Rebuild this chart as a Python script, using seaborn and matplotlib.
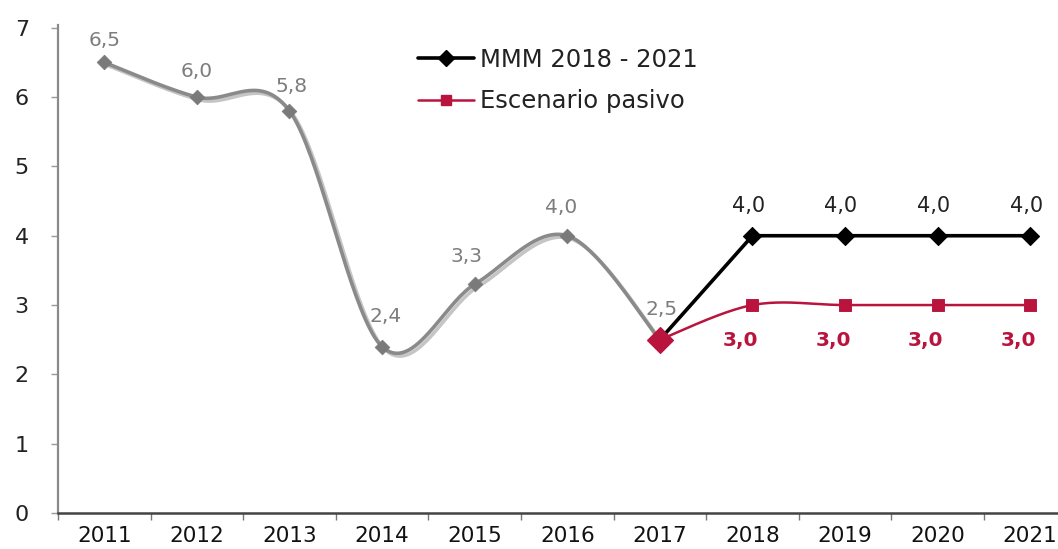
import numpy as np
import pandas as pd
import seaborn as sns
import matplotlib.pyplot as plt
from matplotlib import patheffects as pe
from matplotlib.lines import Line2D
from matplotlib.ticker import FixedLocator

# --- data -------------------------------------------------------------
years = [2011, 2012, 2013, 2014, 2015, 2016, 2017, 2018, 2019, 2020, 2021]
hist_years = [2011, 2012, 2013, 2014, 2015, 2016, 2017]
hist_vals = [6.5, 6.0, 5.8, 2.4, 3.3, 4.0, 2.5]
proj_years = [2017, 2018, 2019, 2020, 2021]
mmm_vals = [2.5, 4.0, 4.0, 4.0, 4.0]
pasivo_vals = [2.5, 3.0, 3.0, 3.0, 3.0]
hist_labels = ["6,5", "6,0", "5,8", "2,4", "3,3", "4,0", "2,5"]
mmm_labels = ["4,0", "4,0", "4,0", "4,0"]
pasivo_labels = ["3,0", "3,0", "3,0", "3,0"]
legend_labels = ["MMM 2018 - 2021", "Escenario pasivo"]
y_ticks = [0, 1, 2, 3, 4, 5, 6, 7]

GRAY = "#8a8a8a"
GRAY_TXT = "#7d7d7d"
RED = "#b8143e"
BLACK = "#000000"


def smooth(xs, ys, n=40):
    """Catmull-Rom style smoothing (spreadsheet 'smoothed line')."""
    p = np.column_stack([xs, ys]).astype(float)
    p = np.vstack([p[0], p, p[-1]])
    out = []
    for i in range(1, len(p) - 2):
        p0, p1, p2, p3 = p[i - 1], p[i], p[i + 1], p[i + 2]
        b1 = p1 + (p2 - p0) / 6.0
        b2 = p2 - (p3 - p1) / 6.0
        t = np.linspace(0, 1, n)[:, None]
        seg = ((1 - t) ** 3) * p1 + 3 * ((1 - t) ** 2) * t * b1 \
            + 3 * (1 - t) * t ** 2 * b2 + t ** 3 * p2
        out.append(seg if i == 1 else seg[1:])
    return np.vstack(out)


sns.set_theme(style="white")
plt.rcParams["font.family"] = ["DejaVu Sans"]

fig = plt.figure(figsize=(10.58, 5.49), dpi=100)
ax = fig.add_axes([58 / 1058, 36 / 549, 1000 / 1058, 488 / 549])

pos = {y: i for i, y in enumerate(years)}
hx = [pos[y] for y in hist_years]
px = [pos[y] for y in proj_years]

# historical series: smoothed grey line with shadow
curve = smooth(hx, hist_vals)
df_curve = pd.DataFrame({"x": curve[:, 0], "y": curve[:, 1]})
sns.lineplot(data=df_curve, x="x", y="y", ax=ax, color=GRAY, lw=2.6,
             sort=False, estimator=None,
             path_effects=[pe.SimpleLineShadow(offset=(2, -2), alpha=0.25),
                           pe.Normal()])
df_hist = pd.DataFrame({"x": hx, "y": hist_vals})
sns.scatterplot(data=df_hist, x="x", y="y", ax=ax, marker="D", s=55,
                color="#7a7a7a", edgecolor="#7a7a7a", zorder=4)

# MMM projection: straight black line with diamonds
df_mmm = pd.DataFrame({"x": px, "y": mmm_vals})
sns.lineplot(data=df_mmm, x="x", y="y", ax=ax, color=BLACK, lw=2.6,
             estimator=None, zorder=5)
sns.scatterplot(data=df_mmm.iloc[1:], x="x", y="y", ax=ax, marker="D",
                s=85, color=BLACK, edgecolor=BLACK, zorder=6)

# passive scenario: smoothed red line with squares
red_curve = smooth(px, pasivo_vals)
df_red = pd.DataFrame({"x": red_curve[:, 0], "y": red_curve[:, 1]})
sns.lineplot(data=df_red, x="x", y="y", ax=ax, color=RED, lw=1.8,
             sort=False, estimator=None, zorder=5)
df_pas = pd.DataFrame({"x": px, "y": pasivo_vals})
sns.scatterplot(data=df_pas.iloc[1:], x="x", y="y", ax=ax, marker="s",
                s=70, color=RED, edgecolor=RED, zorder=6)
sns.scatterplot(data=df_pas.iloc[:1], x="x", y="y", ax=ax, marker="D",
                s=170, color=RED, edgecolor=RED, zorder=7)

# value labels
hist_offsets = [(0, 22), (0, 26), (2, 24), (4, 30), (-8, 28), (-6, 28), (2, 30)]
for x, v, lab, (dx, dy) in zip(hx, hist_vals, hist_labels, hist_offsets):
    ax.annotate(lab, (x, v), xytext=(dx, dy), textcoords="offset pixels",
                ha="center", va="center", fontsize=14.5, color=GRAY_TXT)
for x, v, lab in zip(px[1:], mmm_vals[1:], mmm_labels):
    ax.annotate(lab, (x, v), xytext=(-4, 30), textcoords="offset pixels",
                ha="center", va="center", fontsize=15, color="#222222")
for x, v, lab in zip(px[1:], pasivo_vals[1:], pasivo_labels):
    ax.annotate(lab, (x, v), xytext=(-12, -35), textcoords="offset pixels",
                ha="center", va="center", fontsize=14.5, color=RED,
                fontweight="bold")

# axes styling
ax.set_xlim(-0.5, 10.3)
ax.set_ylim(0, 7.04)
ax.set_xlabel("")
ax.set_ylabel("")
ax.set_xticks(range(len(years)))
ax.set_xticklabels([str(y) for y in years])
ax.xaxis.set_minor_locator(FixedLocator([i + 0.5 for i in range(-1, len(years))]))
ax.tick_params(axis="x", which="major", length=0, pad=9, labelsize=15.5,
               labelcolor="#111111")
ax.tick_params(axis="x", which="minor", length=5, width=1, color="#777777",
               direction="out", bottom=True)
ax.set_yticks(y_ticks)
ax.tick_params(axis="y", which="major", length=5, width=1, color="#999999",
               direction="out", left=True, pad=16, labelsize=16,
               labelcolor="#222222")
for s in ["top", "right"]:
    ax.spines[s].set_visible(False)
ax.spines["left"].set_color("#8a8a8a")
ax.spines["left"].set_linewidth(1.6)
ax.spines["bottom"].set_color("#444444")
ax.spines["bottom"].set_linewidth(1.8)

# legend
handles = [
    Line2D([], [], color=BLACK, lw=2.6, marker="D", markersize=8),
    Line2D([], [], color=RED, lw=1.8, marker="s", markersize=7),
]
fig.legend(handles, legend_labels, loc="upper left",
           bbox_to_anchor=(418 / 1058, 1 - 48 / 549), frameon=False,
           fontsize=17.5, handlelength=2.3, handletextpad=0.25,
           labelspacing=0.7, borderpad=0, borderaxespad=0,
           labelcolor="#222222")

fig.savefig("out.png", dpi=100, facecolor="white")
